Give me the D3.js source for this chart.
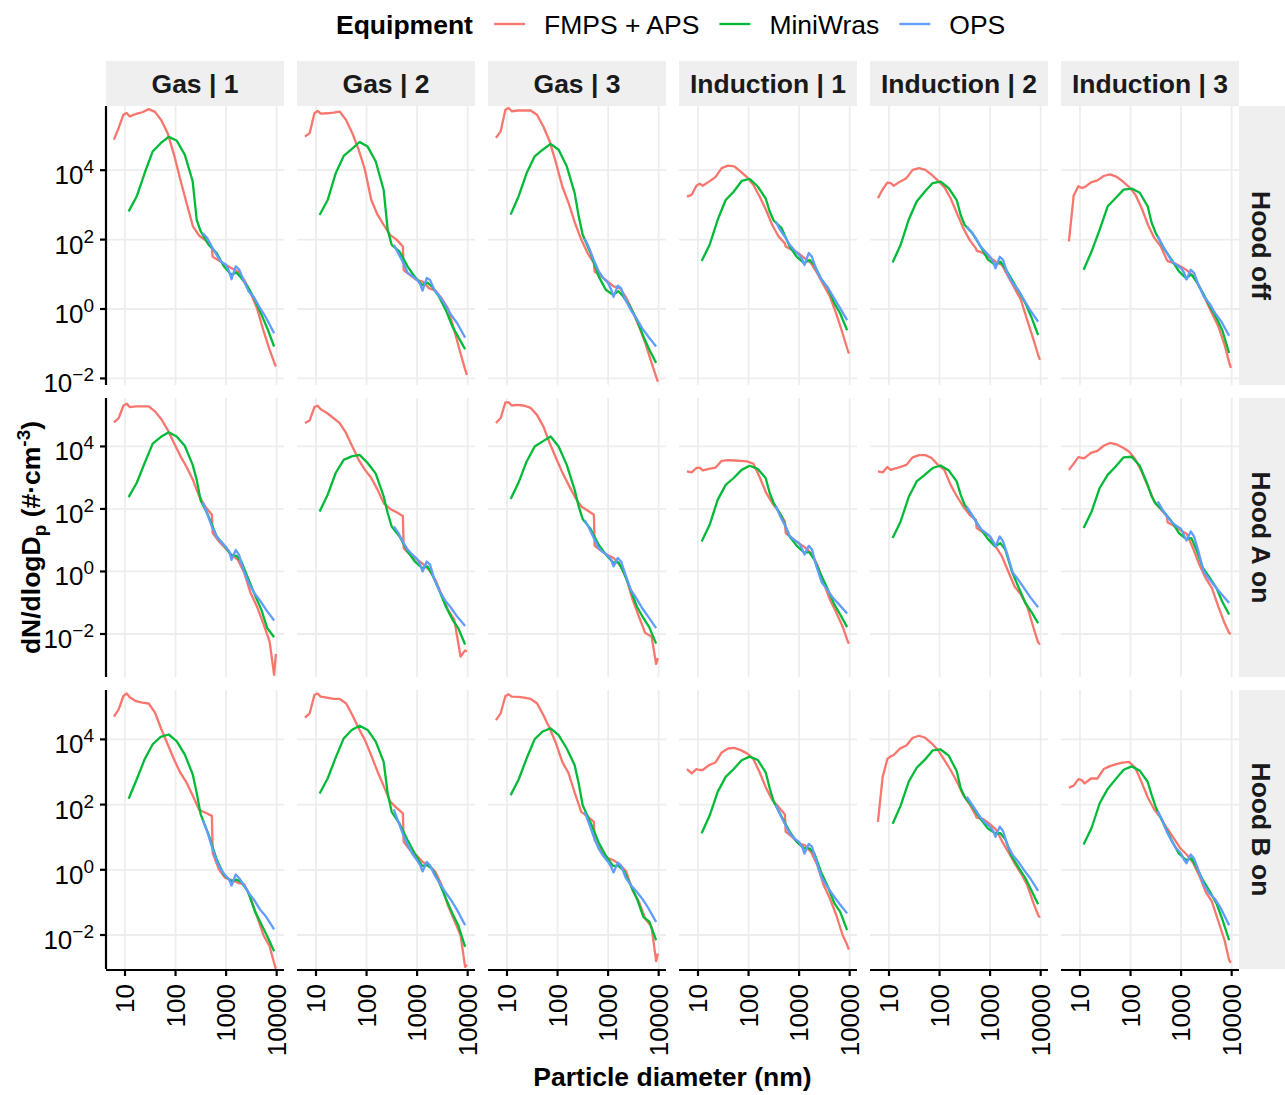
<!DOCTYPE html>
<html>
<head>
<meta charset="utf-8">
<script src="https://cdn.jsdelivr.net/npm/d3@7"></script>
<style>
  body { margin: 0; background: #fff; }
  svg text { font-family: "Liberation Sans", Arial, Helvetica, sans-serif; }
</style>
</head>
<body>
<svg id="chart" width="1285" height="1095"></svg>
<script>
// ---- facets and series ----
const columnLabels = ["Gas | 1", "Gas | 2", "Gas | 3", "Induction | 1", "Induction | 2", "Induction | 3"];
const rowLabels = ["Hood off", "Hood A on", "Hood B on"];
const instruments = ["FMPS + APS", "MiniWras", "OPS"];
const instrumentColors = ["#F8766D", "#00BA38", "#619CFF"];

// ---- axes ----
const xTicks = [10, 100, 1000, 10000];
const yTicks = [1e-2, 1, 1e2, 1e4];
const xDomain = [4.21, 13960];
const rowDomains = [[6.46e-3, 7.08e5], [4.21e-4, 3.54e5], [9.06e-4, 3.27e5]];

// ---- particle diameters (nm) for each instrument ----
const diamFmpsAps = [6.04, 7.5, 9.3, 10.8, 12.4, 16.5, 22.1, 29.4, 39.2, 52.3, 69.8, 93.1, 124.1, 165.5, 220.7, 294.3, 392.4, 523.3, 542, 723, 965, 1286, 1715, 2288, 3051, 4068, 5425, 7234, 8900, 9650];
const diamMiniwras = [11.8, 17, 24.5, 35.3, 50.8, 73, 105, 152, 218, 262, 314, 450, 650, 900, 1250, 1600, 2000, 2700, 3700, 5000, 6500, 8900];
const diamOps = [345, 420, 520, 650, 800, 1000, 1150, 1280, 1550, 1800, 2200, 2800, 3600, 4700, 6200, 8900];

// ---- dN/dlogDp (#/cm3), Hood off ----
const fmpsAps_gas1_off = [7.6e4, 1.66e5, 3.98e5, 4.47e5, 3.55e5, 4.17e5, 4.68e5, 5.75e5, 4.79e5, 2.75e5, 1.17e5, 2.82e4, 5.37e3, 1.12e3, 240, 129, 95, 58, 32, 25, 19, 15, 12, 6.9, 2.9, 1.07, 0.25, 0.068, 0.0295, 0.022];
const miniwras_gas1_off = [650, 1.74e3, 8.3e3, 3.47e4, 6.0e4, 9.1e4, 7.2e4, 2.82e4, 4.8e3, 370, 174, 71, 41, 17, 9.8, 11.2, 7.8, 4.3, 1.86, 0.69, 0.28, 0.083];
const ops_gas1_off = [155, 112, 63, 36, 23, 19, 12, 7.2, 17, 14, 6.9, 3.2, 2.1, 1.07, 0.55, 0.20];

const fmpsAps_gas2_off = [9.3e4, 1.17e5, 4.37e5, 5.1e5, 4.27e5, 4.37e5, 4.57e5, 4.9e5, 2.82e5, 1.17e5, 3.89e4, 1.02e4, 1.38e3, 513, 263, 135, 100, 63, 13.2, 9.5, 6.9, 6.2, 4.0, 3.4, 2.04, 1.05, 0.245, 0.052, 0.0182, 0.0126];
const miniwras_gas2_off = [513, 1.38e3, 8.1e3, 2.57e4, 4.07e4, 6.5e4, 4.79e4, 1.78e4, 2.69e3, 191, 71, 45, 16.6, 8.5, 4.9, 5.75, 4.37, 2.29, 0.93, 0.31, 0.158, 0.069];
const ops_gas2_off = [71, 41, 23, 11.2, 8.9, 6.9, 5.2, 3.4, 7.8, 6.9, 3.55, 2.29, 1.32, 0.68, 0.39, 0.15];

const fmpsAps_gas3_off = [8.5e4, 1.32e5, 5.5e5, 6.2e5, 5.0e5, 5.25e5, 5.25e5, 5.25e5, 3.98e5, 1.82e5, 6.8e4, 1.62e4, 3.39e3, 1.12e3, 302, 100, 41, 21, 12, 8.7, 6.3, 4.5, 4.0, 2.1, 0.85, 0.32, 0.105, 0.028, 0.0112, 0.0081];
const miniwras_gas3_off = [525, 1.78e3, 8.3e3, 2.51e4, 3.89e4, 5.75e4, 3.89e4, 1.29e4, 2.19e3, 468, 138, 41, 8.7, 3.6, 2.57, 3.24, 2.29, 1.2, 0.49, 0.162, 0.068, 0.028];
const ops_gas3_off = [105, 58, 26, 12.3, 7.8, 5.6, 3.6, 2.24, 4.7, 4.0, 1.86, 0.95, 0.55, 0.28, 0.162, 0.083];

const fmpsAps_ind1_off = [1.74e3, 1.95e3, 3.55e3, 4.07e3, 3.55e3, 4.68e3, 6.3e3, 1.15e4, 1.35e4, 1.29e4, 9.1e3, 6.3e3, 3.8e3, 1.74e3, 724, 263, 123, 78, 63, 50, 41, 29, 21, 10.7, 4.9, 2.29, 0.74, 0.2, 0.074, 0.052];
const miniwras_ind1_off = [24, 71, 372, 1.38e3, 2.4e3, 4.9e3, 5.6e3, 3.39e3, 1.55e3, 646, 355, 214, 63, 32, 21, 26, 18.6, 7.6, 4.0, 1.45, 0.74, 0.245];
const ops_ind1_off = [331, 191, 123, 71, 50, 36, 27, 18.6, 41, 32, 13.2, 6.9, 4.4, 2.29, 1.17, 0.48];

const fmpsAps_ind2_off = [1.55e3, 2.82e3, 4.37e3, 4.27e3, 3.55e3, 4.68e3, 5.9e3, 1.02e4, 1.15e4, 1.02e4, 7.4e3, 5.0e3, 3.24e3, 1.55e3, 575, 214, 98, 56, 48, 41, 31, 23, 18.6, 8.5, 4.0, 1.82, 0.48, 0.129, 0.048, 0.034];
const miniwras_ind2_off = [22, 71, 372, 1.26e3, 2.4e3, 4.27e3, 4.68e3, 3.02e3, 1.38e3, 513, 263, 151, 63, 27, 18.6, 23, 14.8, 6.9, 3.16, 1.45, 0.6, 0.178];
const ops_ind2_off = [240, 170, 110, 63, 45, 32, 23, 14.8, 32, 26, 10.7, 5.5, 3.55, 1.82, 0.93, 0.43];

const fmpsAps_ind3_off = [89, 1.86e3, 3.47e3, 3.09e3, 3.24e3, 4.47e3, 5.1e3, 6.8e3, 7.6e3, 6.5e3, 4.79e3, 3.31e3, 2.0e3, 813, 269, 112, 65, 26, 24, 21, 17, 13.2, 9.1, 4.5, 1.86, 0.76, 0.32, 0.093, 0.0295, 0.02];
const miniwras_ind3_off = [13.5, 46, 195, 912, 1.58e3, 2.75e3, 2.95e3, 2.24e3, 912, 302, 155, 58, 26, 12.3, 7.8, 9.8, 6.3, 2.88, 1.2, 0.55, 0.25, 0.054];
const ops_ind3_off = [126, 72, 42, 24, 19, 15, 11, 7.1, 13.5, 11, 5.0, 2.34, 1.48, 0.76, 0.44, 0.17];

// ---- Hood A on ----
const fmpsAps_gas1_a = [5.9e4, 8.1e4, 2.0e5, 2.34e5, 1.82e5, 1.91e5, 1.91e5, 1.91e5, 1.32e5, 7.4e4, 3.39e4, 1.29e4, 5.0e3, 2.19e3, 851, 251, 115, 65, 17, 9.1, 5.6, 3.39, 2.34, 0.89, 0.204, 0.076, 0.022, 0.0058, 0.00049, 0.0023];
const miniwras_gas1_a = [240, 676, 2.95e3, 1.23e4, 2.0e4, 2.82e4, 2.09e4, 1.05e4, 2.57e3, 851, 186, 58, 13.2, 7.1, 3.39, 3.16, 2.09, 0.62, 0.178, 0.059, 0.0155, 0.0079];
const ops_gas1_a = [162, 74, 27.5, 13.2, 8.5, 6.0, 4.4, 2.34, 4.9, 3.39, 1.12, 0.43, 0.204, 0.117, 0.059, 0.027];

const fmpsAps_gas2_a = [5.6e4, 6.8e4, 1.82e5, 2.0e5, 1.55e5, 1.17e5, 8.1e4, 5.6e4, 2.69e4, 1.0e4, 3.72e3, 1.78e3, 977, 407, 148, 100, 78, 60, 5.6, 3.47, 2.51, 1.78, 1.15, 0.55, 0.182, 0.06, 0.029, 0.0019, 0.003, 0.00275];
const miniwras_gas2_a = [83, 282, 1.41e3, 3.72e3, 4.79e3, 5.37e3, 2.95e3, 1.35e3, 251, 74, 27.5, 13.2, 4.4, 2.09, 1.29, 1.45, 0.79, 0.263, 0.076, 0.029, 0.0155, 0.0046];
const ops_gas2_a = [27.5, 17.8, 9.1, 5.0, 3.47, 2.51, 1.66, 1.0, 2.09, 1.66, 0.55, 0.229, 0.117, 0.068, 0.036, 0.018];

const fmpsAps_gas3_a = [5.6e4, 8.1e4, 2.57e5, 2.57e5, 2.04e5, 2.14e5, 2.0e5, 1.7e5, 1.02e5, 4.37e4, 1.29e4, 4.27e3, 1.48e3, 589, 240, 120, 89, 65, 6.6, 4.7, 3.39, 2.69, 1.62, 0.62, 0.126, 0.036, 0.0107, 0.0083, 0.0011, 0.0017];
const miniwras_gas3_a = [209, 708, 3.31e3, 1.0e4, 1.45e4, 2.09e4, 1.0e4, 2.57e3, 407, 120, 48, 23, 7.2, 3.47, 1.95, 1.95, 1.0, 0.295, 0.076, 0.032, 0.0166, 0.0049];
const ops_gas3_a = [43, 24.5, 11.7, 5.6, 4.07, 3.16, 2.34, 1.45, 2.69, 2.09, 0.79, 0.263, 0.141, 0.068, 0.036, 0.0155];

const fmpsAps_ind1_a = [1.58e3, 1.48e3, 2.04e3, 2.09e3, 1.7e3, 1.91e3, 2.09e3, 3.47e3, 3.63e3, 3.55e3, 3.47e3, 3.31e3, 2.82e3, 1.05e3, 339, 155, 83, 40, 17, 11.7, 8.1, 6.0, 3.89, 1.66, 0.43, 0.126, 0.049, 0.0174, 0.0066, 0.0049];
const miniwras_ind1_a = [9.1, 31, 195, 589, 977, 1.78e3, 2.4e3, 1.91e3, 977, 324, 155, 58, 13.2, 6.6, 4.07, 4.07, 2.4, 0.79, 0.263, 0.087, 0.042, 0.0166];
const ops_ind1_a = [126, 60, 31, 13.8, 10.2, 8.1, 5.2, 3.47, 6.6, 5.0, 1.45, 0.45, 0.263, 0.141, 0.087, 0.045];

const fmpsAps_ind2_a = [1.58e3, 1.48e3, 2.19e3, 1.78e3, 1.91e3, 2.19e3, 2.57e3, 4.47e3, 5.25e3, 5.25e3, 4.27e3, 2.57e3, 1.78e3, 589, 251, 120, 65, 45, 24.5, 17.8, 13.8, 6.3, 3.02, 1.0, 0.33, 0.182, 0.076, 0.0155, 0.0054, 0.0046];
const miniwras_ind2_a = [11.7, 40, 240, 759, 1.23e3, 2.04e3, 2.45e3, 1.7e3, 759, 282, 135, 60, 23, 11, 6.3, 8.1, 5.0, 1.0, 0.295, 0.098, 0.052, 0.0224];
const ops_ind2_a = [120, 71, 40, 23, 17.8, 13.2, 9.1, 6.3, 13.2, 9.1, 3.47, 0.93, 0.55, 0.295, 0.151, 0.072];

const fmpsAps_ind3_a = [1.78e3, 2.82e3, 4.57e3, 4.27e3, 4.27e3, 6.2e3, 7.2e3, 1.05e4, 1.29e4, 1.17e4, 9.3e3, 6.9e3, 3.89e3, 1.58e3, 525, 174, 100, 58, 37, 29, 21, 16.2, 5.6, 1.66, 0.62, 0.295, 0.076, 0.0224, 0.0107, 0.01];
const miniwras_ind3_a = [24.5, 83, 468, 1.23e3, 2.29e3, 4.47e3, 4.68e3, 2.4e3, 589, 251, 148, 83, 40, 17, 11, 11.7, 5.0, 1.29, 0.62, 0.295, 0.11, 0.042];
const ops_ind3_a = [174, 100, 58, 38, 29, 23, 13.8, 9.8, 19, 13.2, 4.4, 1.0, 0.575, 0.33, 0.195, 0.098];

// ---- Hood B on ----
const fmpsAps_gas1_b = [5.0e4, 8.3e4, 2.14e5, 2.57e5, 1.95e5, 1.48e5, 1.35e5, 1.26e5, 6.6e4, 2.04e4, 7.1e3, 2.45e3, 955, 468, 182, 68, 56, 45, 3.31, 1.02, 0.56, 0.48, 0.4, 0.355, 0.138, 0.038, 0.0102, 0.0045, 0.00138, 0.00091];
const miniwras_gas1_b = [151, 589, 2.45e3, 7.1e3, 1.2e4, 1.41e4, 8.9e3, 3.47e3, 851, 229, 50, 12, 2.09, 0.71, 0.45, 0.5, 0.42, 0.219, 0.054, 0.0209, 0.0091, 0.00316];
const ops_gas1_b = [33, 15.5, 5.2, 1.82, 0.98, 0.63, 0.5, 0.33, 0.72, 0.56, 0.355, 0.195, 0.117, 0.06, 0.036, 0.0148];

const fmpsAps_gas2_b = [4.68e4, 6.3e4, 2.29e5, 2.57e5, 2.04e5, 1.91e5, 1.74e5, 1.74e5, 1.29e5, 5.6e4, 2.19e4, 9.5e3, 3.16e3, 1.02e3, 355, 123, 79, 54, 7.2, 4.0, 2.82, 1.74, 1.38, 0.87, 0.34, 0.081, 0.028, 0.0098, 0.00105, 0.00123];
const miniwras_gas2_b = [219, 631, 2.75e3, 1.07e4, 1.95e4, 2.63e4, 1.95e4, 8.5e3, 2.04e3, 219, 60, 26, 8.1, 3.16, 1.32, 1.38, 1.05, 0.43, 0.132, 0.046, 0.02, 0.0043];
const ops_gas2_b = [71, 31, 12.9, 5.75, 3.16, 1.95, 1.38, 0.89, 1.74, 1.38, 0.71, 0.38, 0.209, 0.117, 0.058, 0.02];

const fmpsAps_gas3_b = [3.89e4, 6.3e4, 2.14e5, 2.4e5, 2.04e5, 2.0e5, 1.91e5, 1.74e5, 1.29e5, 5.6e4, 2.19e4, 7.6e3, 2.04e3, 912, 219, 60, 43, 29.5, 8.1, 4.0, 2.34, 1.95, 1.45, 0.87, 0.234, 0.105, 0.0316, 0.0178, 0.00158, 0.0027];
const miniwras_gas3_b = [195, 589, 2.63e3, 1.02e4, 1.74e4, 2.19e4, 1.35e4, 5.25e3, 1.62e3, 447, 95, 28, 6.9, 2.69, 1.32, 1.32, 0.98, 0.38, 0.132, 0.0355, 0.0263, 0.0069];
const ops_gas3_b = [60, 26, 10.2, 4.47, 2.69, 1.74, 1.23, 0.83, 1.66, 1.32, 0.6, 0.34, 0.219, 0.132, 0.068, 0.025];

const fmpsAps_ind1_b = [1.23e3, 912, 1.23e3, 1.15e3, 1.15e3, 1.62e3, 1.95e3, 3.98e3, 5.25e3, 5.5e3, 4.68e3, 3.72e3, 2.51e3, 977, 331, 138, 85, 50, 14.8, 10.2, 6.5, 5.75, 3.55, 1.41, 0.34, 0.132, 0.041, 0.01, 0.005, 0.00355];
const miniwras_ind1_b = [13.2, 46, 245, 708, 1.23e3, 2.29e3, 2.95e3, 2.34e3, 977, 316, 123, 43, 14.8, 7.2, 4.57, 4.57, 3.16, 0.87, 0.302, 0.093, 0.051, 0.0141];
const ops_ind1_b = [98, 50, 26, 13.2, 9.1, 7.2, 5.1, 3.16, 6.2, 5.1, 1.78, 0.575, 0.302, 0.166, 0.093, 0.046];

const fmpsAps_ind2_b = [29.5, 708, 2.51e3, 3.02e3, 3.31e3, 5.25e3, 6.5e3, 1.12e4, 1.29e4, 1.12e4, 7.6e3, 4.68e3, 2.34e3, 1.15e3, 501, 195, 102, 46, 40, 36, 26, 17.8, 7.6, 3.55, 1.58, 0.78, 0.34, 0.093, 0.041, 0.034];
const miniwras_ind2_b = [26, 93, 501, 1.35e3, 2.34e3, 4.57e3, 4.9e3, 3.16e3, 1.07e3, 316, 174, 85, 36, 18.6, 13.2, 13.2, 8.7, 2.51, 1.15, 0.55, 0.24, 0.087];
const ops_ind2_b = [174, 110, 68, 40, 28, 21, 15.5, 10.2, 21, 15.5, 5.75, 2.82, 1.78, 0.98, 0.55, 0.224];

const fmpsAps_ind3_b = [331, 380, 603, 562, 447, 631, 631, 1.23e3, 1.51e3, 1.74e3, 1.95e3, 2.04e3, 1.35e3, 479, 162, 71, 40, 18.6, 17.8, 9.1, 4.57, 2.95, 1.66, 0.66, 0.214, 0.105, 0.0269, 0.0069, 0.0017, 0.00141];
const miniwras_ind3_b = [6.0, 19.5, 110, 302, 603, 1.17e3, 1.48e3, 1.1e3, 501, 195, 85, 26, 8.1, 3.16, 2.0, 2.24, 1.23, 0.48, 0.214, 0.093, 0.031, 0.0069];
const ops_ind3_b = [63, 34, 14.8, 7.6, 4.57, 3.16, 2.0, 1.58, 2.95, 2.24, 0.98, 0.355, 0.191, 0.126, 0.063, 0.02];

// panel table: [row][column] -> the three series of that facet
const panelSeries = [
  [[fmpsAps_gas1_off, miniwras_gas1_off, ops_gas1_off], [fmpsAps_gas2_off, miniwras_gas2_off, ops_gas2_off], [fmpsAps_gas3_off, miniwras_gas3_off, ops_gas3_off],
   [fmpsAps_ind1_off, miniwras_ind1_off, ops_ind1_off], [fmpsAps_ind2_off, miniwras_ind2_off, ops_ind2_off], [fmpsAps_ind3_off, miniwras_ind3_off, ops_ind3_off]],
  [[fmpsAps_gas1_a, miniwras_gas1_a, ops_gas1_a], [fmpsAps_gas2_a, miniwras_gas2_a, ops_gas2_a], [fmpsAps_gas3_a, miniwras_gas3_a, ops_gas3_a],
   [fmpsAps_ind1_a, miniwras_ind1_a, ops_ind1_a], [fmpsAps_ind2_a, miniwras_ind2_a, ops_ind2_a], [fmpsAps_ind3_a, miniwras_ind3_a, ops_ind3_a]],
  [[fmpsAps_gas1_b, miniwras_gas1_b, ops_gas1_b], [fmpsAps_gas2_b, miniwras_gas2_b, ops_gas2_b], [fmpsAps_gas3_b, miniwras_gas3_b, ops_gas3_b],
   [fmpsAps_ind1_b, miniwras_ind1_b, ops_ind1_b], [fmpsAps_ind2_b, miniwras_ind2_b, ops_ind2_b], [fmpsAps_ind3_b, miniwras_ind3_b, ops_ind3_b]]
];
const seriesDiameters = [diamFmpsAps, diamMiniwras, diamOps];

// ---- layout ----
const panelX0 = 106, panelY0 = 106, panelW = 178, panelH = 279, gapX = 13, gapY = 13;
const stripH = 45, stripW = 46;
const baseFont = 26.5, tickFont = 26, supFont = 19;
const textColor = "#1A1A1A";

const svg = d3.select("#chart");
svg.append("rect").attr("width", 1285).attr("height", 1095).attr("fill", "#fff");

const x = d3.scaleLog().domain(xDomain).range([0, panelW]);
const yScales = rowDomains.map(dom => d3.scaleLog().domain(dom).range([panelH, 0]));

const defs = svg.append("defs");
defs.append("clipPath").attr("id", "panel-clip")
  .append("rect").attr("x", 0).attr("y", 0).attr("width", panelW).attr("height", panelH);

const expLabel = v => {
  const e = Math.round(Math.log10(v));
  return e < 0 ? "\u2212" + Math.abs(e) : String(e);
};

rowLabels.forEach((rowName, r) => {
  const y = yScales[r];
  const py = panelY0 + r * (panelH + gapY);
  columnLabels.forEach((colName, c) => {
    const px = panelX0 + c * (panelW + gapX);
    const g = svg.append("g").attr("transform", `translate(${px},${py})`);

    // major grid
    g.append("g").selectAll("line.v").data(xTicks).join("line")
      .attr("x1", d => x(d)).attr("x2", d => x(d)).attr("y1", 0).attr("y2", panelH)
      .attr("stroke", "#EDEDED").attr("stroke-width", 1.8);
    g.append("g").selectAll("line.h").data(yTicks).join("line")
      .attr("x1", 0).attr("x2", panelW).attr("y1", d => y(d)).attr("y2", d => y(d))
      .attr("stroke", "#EDEDED").attr("stroke-width", 1.8);

    // size distributions
    const lines = g.append("g").attr("clip-path", "url(#panel-clip)");
    panelSeries[r][c].forEach((vals, k) => {
      const pts = vals.map((v, i) => [seriesDiameters[k][i], v]);
      lines.append("path")
        .attr("d", d3.line().x(d => x(d[0])).y(d => y(d[1]))(pts))
        .attr("fill", "none").attr("stroke", instrumentColors[k])
        .attr("stroke-width", 2.3).attr("stroke-linejoin", "round");
    });

    // column strips on top row
    if (r === 0) {
      svg.append("rect").attr("x", px).attr("y", panelY0 - stripH).attr("width", panelW).attr("height", stripH)
        .attr("fill", "#EFEFEF");
      svg.append("text").attr("x", px + panelW / 2).attr("y", panelY0 - stripH / 2)
        .attr("dy", "0.36em").attr("text-anchor", "middle").attr("font-weight", "bold")
        .attr("font-size", baseFont).attr("fill", textColor).text(colName);
    }

    // left axis
    if (c === 0) {
      const ya = svg.append("g").attr("transform", `translate(${px},${py})`);
      ya.append("line").attr("x1", 0).attr("x2", 0).attr("y1", 0).attr("y2", panelH)
        .attr("stroke", "#000").attr("stroke-width", 2.2);
      yTicks.forEach(t => {
        ya.append("line").attr("x1", -6).attr("x2", 0).attr("y1", y(t)).attr("y2", y(t))
          .attr("stroke", "#000").attr("stroke-width", 2.2);
        const lab = ya.append("text").attr("x", -12).attr("y", y(t) + 14)
          .attr("text-anchor", "end").attr("font-size", tickFont).attr("fill", "#000");
        lab.append("tspan").text("10");
        lab.append("tspan").attr("dy", -11).attr("font-size", supFont).text(expLabel(t));
      });
    }

    // bottom axis
    if (r === rowLabels.length - 1) {
      const xa = svg.append("g").attr("transform", `translate(${px},${py + panelH})`);
      xa.append("line").attr("x1", 0).attr("x2", panelW).attr("y1", 1).attr("y2", 1)
        .attr("stroke", "#000").attr("stroke-width", 2.2);
      xTicks.forEach(t => {
        xa.append("line").attr("x1", x(t)).attr("x2", x(t)).attr("y1", 1).attr("y2", 7)
          .attr("stroke", "#000").attr("stroke-width", 2.2);
        xa.append("text").attr("transform", `translate(${x(t)},15) rotate(-90)`)
          .attr("dy", "0.36em").attr("text-anchor", "end")
          .attr("font-size", tickFont).attr("fill", "#000").text(t);
      });
    }
  });

  // row strip on the right
  const sx = panelX0 + 6 * panelW + 5 * gapX;
  svg.append("rect").attr("x", sx).attr("y", py).attr("width", stripW).attr("height", panelH).attr("fill", "#EFEFEF");
  svg.append("text").attr("transform", `translate(${sx + stripW / 2},${py + panelH / 2}) rotate(90)`)
    .attr("dy", "0.36em").attr("text-anchor", "middle").attr("font-weight", "bold")
    .attr("font-size", baseFont).attr("fill", textColor).text(rowName);
});

// axis titles
svg.append("text").attr("x", panelX0 + (6 * panelW + 5 * gapX) / 2).attr("y", 1086)
  .attr("text-anchor", "middle").attr("font-weight", "bold").attr("font-size", baseFont)
  .attr("fill", "#000").text("Particle diameter (nm)");

const yTitle = svg.append("text")
  .attr("transform", `translate(40,${panelY0 + (3 * panelH + 2 * gapY) / 2}) rotate(-90)`)
  .attr("text-anchor", "middle").attr("font-weight", "bold").attr("font-size", baseFont).attr("fill", "#000");
yTitle.append("tspan").text("dN/dlogD");
yTitle.append("tspan").attr("dy", 6).attr("font-size", supFont).text("p");
yTitle.append("tspan").attr("dy", -6).text(" (#\u00B7cm");
yTitle.append("tspan").attr("dy", -10).attr("font-size", supFont).text("-3");
yTitle.append("tspan").attr("dy", 10).text(")");

// legend
const legend = svg.append("g");
const legendY = 24;
legend.append("text").attr("x", 336).attr("y", legendY).attr("dy", "0.36em")
  .attr("font-weight", "bold").attr("font-size", baseFont).attr("fill", "#000").text("Equipment");
let lx = 494;
instruments.forEach((name, k) => {
  legend.append("line").attr("x1", lx).attr("x2", lx + 31).attr("y1", legendY).attr("y2", legendY)
    .attr("stroke", instrumentColors[k]).attr("stroke-width", 2.3);
  const t = legend.append("text").attr("x", lx + 50).attr("y", legendY).attr("dy", "0.36em")
    .attr("font-size", baseFont).attr("fill", "#000").text(name);
  lx += 50 + t.node().getComputedTextLength() + 20;
});
</script>
</body>
</html>
